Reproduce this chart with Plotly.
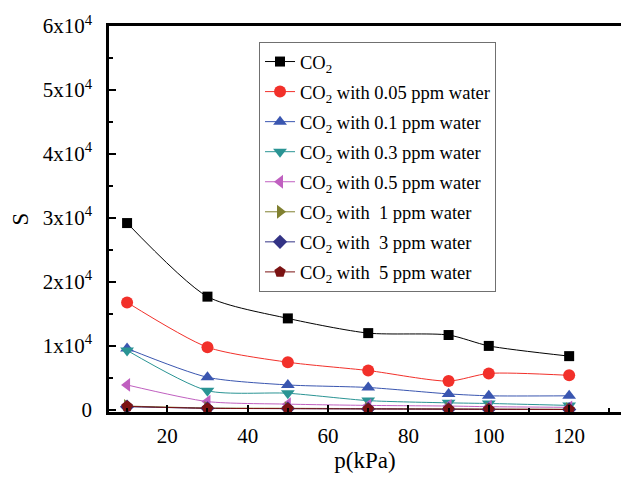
import plotly.graph_objects as go

pressure = [10, 30, 50, 70, 90, 100, 120]
s_co2 = [29200, 17700, 14300, 12000, 11700, 10000, 8400]
s_w005 = [16800, 9800, 7450, 6150, 4500, 5700, 5400]
s_w01 = [9600, 5100, 3900, 3500, 2500, 2200, 2200]
s_w03 = [9300, 3000, 2600, 1450, 1100, 1000, 700]
s_w05 = [3900, 1300, 900, 700, 600, 500, 400]
s_w1 = [600, 300, 250, 200, 150, 120, 100]
s_w3 = [500, 250, 200, 150, 100, 80, 60]
s_w5 = [550, 250, 200, 150, 120, 100, 60]

names = ["CO<sub>2</sub>",
         "CO<sub>2</sub> with 0.05 ppm water",
         "CO<sub>2</sub> with 0.1 ppm water",
         "CO<sub>2</sub> with 0.3 ppm water",
         "CO<sub>2</sub> with 0.5 ppm water",
         "CO<sub>2</sub> with\u00a0 1 ppm water",
         "CO<sub>2</sub> with\u00a0 3 ppm water",
         "CO<sub>2</sub> with\u00a0 5 ppm water"]
series = [s_co2, s_w005, s_w01, s_w03, s_w05, s_w1, s_w3, s_w5]
colors = ["#000000", "#F2302A", "#3A56B0", "#2A9494", "#C060C0", "#808030", "#333385", "#7B1212"]
symbols = ["square", "circle", "triangle-up", "triangle-down", "triangle-left",
           "triangle-right", "diamond", "pentagon"]
sizes = [10, 12, 12, 12, 12, 12, 11, 12]

ytick_vals = [0, 10000, 20000, 30000, 40000, 50000, 60000]
ytick_text = ["0", "1x10<sup>4</sup>", "2x10<sup>4</sup>", "3x10<sup>4</sup>",
              "4x10<sup>4</sup>", "5x10<sup>4</sup>", "6x10<sup>4</sup>"]
xtick_vals = [20, 40, 60, 80, 100, 120]

FONT = "Liberation Serif"

fig = go.Figure()
for i, (nm, ys) in enumerate(zip(names, series)):
    fig.add_trace(go.Scatter(
        x=pressure, y=ys, name=nm, mode="lines+markers",
        line=dict(color=colors[i], width=1, shape="spline", smoothing=0.7),
        marker=dict(symbol=symbols[i], size=sizes[i], color=colors[i],
                    line=dict(width=0)),
        legendgroup=f"g{i}",
    ))

fig.update_layout(
    width=613, height=465,
    margin=dict(l=101, r=0, t=18, b=61, autoexpand=False),
    paper_bgcolor="white", plot_bgcolor="white",
    font=dict(family=FONT, size=18, color="black"),
    showlegend=True,
    legend=dict(x=0.293, y=0.9585, xanchor="left", yanchor="top",
                bordercolor="#707070", borderwidth=1, bgcolor="white",
                font=dict(family=FONT, size=18.5), tracegroupgap=3,
                traceorder="grouped"),
    xaxis=dict(range=[5.5, 132.9], tickvals=xtick_vals, ticks="inside", ticklen=7,
               tickwidth=2, tickcolor="black", showline=True, linewidth=2.5,
               linecolor="black", mirror=True, showgrid=False, zeroline=False,
               automargin=False, ticklabelstandoff=3,
               minor=dict(tickvals=[10, 30, 50, 70, 90, 110, 130], ticks="inside",
                          ticklen=4, tickwidth=2, tickcolor="black"),
               title=dict(text="p(kPa)", font=dict(size=23), standoff=5),
               tickfont=dict(size=21)),
    yaxis=dict(range=[-330, 60000], tickvals=ytick_vals, ticktext=ytick_text,
               ticks="inside", ticklen=7, tickwidth=2, tickcolor="black",
               showline=True, linewidth=2.5, linecolor="black", showgrid=False,
               zeroline=False, automargin=False, ticklabelstandoff=10,
               minor=dict(tickvals=[5000, 15000, 25000, 35000, 45000, 55000],
                          ticks="inside", ticklen=4, tickwidth=2, tickcolor="black"),
               title=dict(text="S", font=dict(size=23), standoff=12),
               tickfont=dict(size=21)),
)

fig.write_html("out.html")
